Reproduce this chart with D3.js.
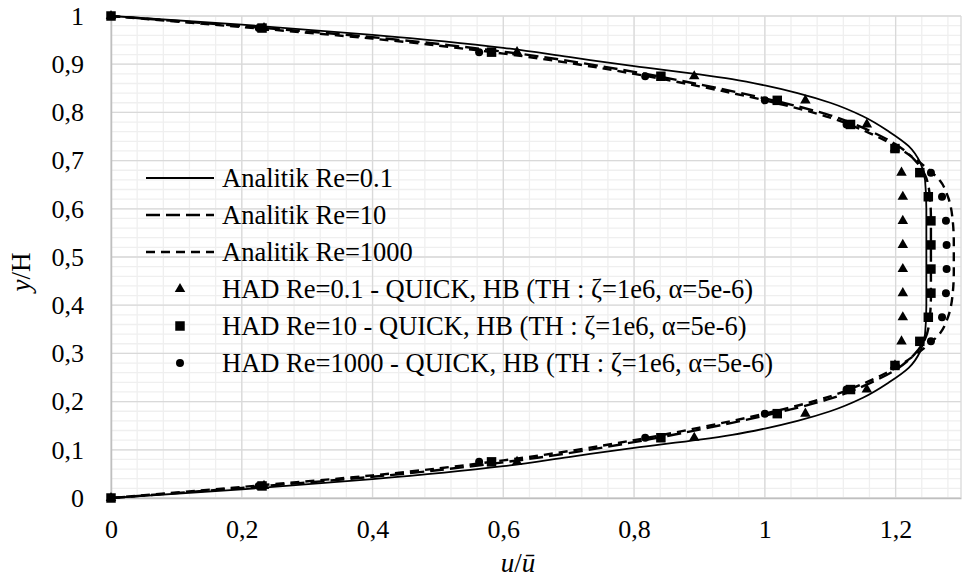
<!DOCTYPE html>
<html>
<head>
<meta charset="utf-8">
<script src="https://cdn.jsdelivr.net/npm/d3@7"></script>
<style>
  body { margin: 0; background: #fff; }
  svg { display: block; }
  svg text { font-family: 'Liberation Serif', 'Times New Roman', 'DejaVu Serif', 'Noto Serif', serif; }
</style>
</head>
<body>
<script>
// y/H levels of the HAD (numerical) points
const hadY = [0, 0.025, 0.075, 0.125, 0.175, 0.225, 0.275, 0.325, 0.375, 0.425, 0.475,
  0.525, 0.575, 0.625, 0.675, 0.725, 0.775, 0.825, 0.875, 0.925, 0.975, 1];
const hadRe01 = [0, 0.234, 0.621, 0.892, 1.062, 1.156, 1.199, 1.209, 1.211, 1.211, 1.211,
  1.211, 1.211, 1.211, 1.209, 1.199, 1.156, 1.062, 0.892, 0.621, 0.234, 0];
const hadRe10 = [0, 0.231, 0.582, 0.841, 1.019, 1.131, 1.199, 1.237, 1.25, 1.254, 1.254,
  1.254, 1.254, 1.25, 1.237, 1.199, 1.131, 1.019, 0.841, 0.582, 0.231, 0];
const hadRe1000 = [0, 0.226, 0.563, 0.817, 1.0, 1.125, 1.2, 1.254, 1.271, 1.277, 1.278,
  1.278, 1.277, 1.271, 1.254, 1.2, 1.125, 1.0, 0.817, 0.563, 0.226, 0];

// analytic profiles (u/ubar, y/H)
const anaRe01U = [0, 0.2, 0.4, 0.6, 0.7, 0.8, 0.9, 0.95, 1.0, 1.05, 1.1, 1.15, 1.19, 1.22, 1.238, 1.245, 1.247,
  1.247, 1.245, 1.238, 1.22, 1.19, 1.15, 1.1, 1.05, 1.0, 0.95, 0.9, 0.8, 0.7, 0.6, 0.4, 0.2, 0];
const anaRe01Y = [0, 0.018, 0.039, 0.066, 0.085, 0.104, 0.121, 0.131, 0.144, 0.16, 0.18, 0.208, 0.24, 0.27, 0.305, 0.34, 0.4,
  0.6, 0.66, 0.695, 0.73, 0.76, 0.792, 0.82, 0.84, 0.856, 0.869, 0.879, 0.896, 0.915, 0.934, 0.961, 0.982, 1];
const anaRe10U = [0, 0.2, 0.4, 0.6, 0.8, 0.9, 1.0, 1.1, 1.16, 1.2, 1.23, 1.245, 1.252, 1.254,
  1.254, 1.252, 1.245, 1.23, 1.2, 1.16, 1.1, 1.0, 0.9, 0.8, 0.6, 0.4, 0.2, 0];
const anaRe10Y = [0, 0.021, 0.044, 0.074, 0.116, 0.142, 0.171, 0.206, 0.238, 0.266, 0.3, 0.33, 0.37, 0.42,
  0.58, 0.63, 0.67, 0.7, 0.734, 0.762, 0.794, 0.829, 0.858, 0.884, 0.926, 0.956, 0.979, 1];
const anaRe1000U = [0, 0.2, 0.4, 0.6, 0.8, 0.9, 1.0, 1.1, 1.16, 1.2, 1.23, 1.25, 1.268, 1.28, 1.287, 1.289,
  1.289, 1.287, 1.28, 1.268, 1.25, 1.23, 1.2, 1.16, 1.1, 1.0, 0.9, 0.8, 0.6, 0.4, 0.2, 0];
const anaRe1000Y = [0, 0.023, 0.047, 0.078, 0.12, 0.146, 0.175, 0.211, 0.243, 0.27, 0.297, 0.318, 0.342, 0.375, 0.42, 0.47,
  0.53, 0.58, 0.625, 0.658, 0.682, 0.703, 0.73, 0.757, 0.789, 0.825, 0.854, 0.88, 0.922, 0.953, 0.977, 1];

const xTicks = [0, 0.2, 0.4, 0.6, 0.8, 1, 1.2];
const yTicks = [0, 0.1, 0.2, 0.3, 0.4, 0.5, 0.6, 0.7, 0.8, 0.9, 1];
const legendNames = ['Analitik Re=0.1', 'Analitik Re=10', 'Analitik Re=1000',
  'HAD Re=0.1 - QUICK, HB (TH : \u03b6=1e6, \u03b1=5e-6)',
  'HAD Re=10 - QUICK, HB (TH : \u03b6=1e6, \u03b1=5e-6)',
  'HAD Re=1000 - QUICK, HB (TH : \u03b6=1e6, \u03b1=5e-6)'];

(function() {
  const width = 965;
  const height = 578;
  const pLeft = 111, pRight = 961, pTop = 16, pBottom = 498;

  const svg = d3.select('body').append('svg').attr('width', width).attr('height', height);

  const xScale = d3.scaleLinear().domain([0, 1.3]).range([pLeft, pRight]);
  const yScale = d3.scaleLinear().domain([0, 1]).range([pBottom, pTop]);
  const comma = function(d) { return d3.format('~g')(d).replace('.', ','); };

  // minor grid
  const minorX = d3.range(0, 1.3, 0.04);
  const minorY = d3.range(0, 1.0001, 0.02);
  svg.append('g').selectAll('line').data(minorX).enter().append('line')
    .attr('x1', function(d) { return xScale(d); }).attr('x2', function(d) { return xScale(d); })
    .attr('y1', pTop).attr('y2', pBottom).attr('stroke', '#efefef').attr('stroke-width', 1.3);
  svg.append('g').selectAll('line').data(minorY).enter().append('line')
    .attr('y1', function(d) { return yScale(d); }).attr('y2', function(d) { return yScale(d); })
    .attr('x1', pLeft).attr('x2', pRight).attr('stroke', '#efefef').attr('stroke-width', 1.3);

  // major grid
  svg.append('g').selectAll('line').data(xTicks).enter().append('line')
    .attr('x1', function(d) { return xScale(d); }).attr('x2', function(d) { return xScale(d); })
    .attr('y1', pTop).attr('y2', pBottom).attr('stroke', '#d9d9d9').attr('stroke-width', 1.3);
  svg.append('g').selectAll('line').data(yTicks).enter().append('line')
    .attr('y1', function(d) { return yScale(d); }).attr('y2', function(d) { return yScale(d); })
    .attr('x1', pLeft).attr('x2', pRight).attr('stroke', '#d9d9d9').attr('stroke-width', 1.3);

  // axes
  const xAxis = svg.append('g')
    .attr('transform', 'translate(0,' + pBottom + ')')
    .call(d3.axisBottom(xScale).tickValues(xTicks).tickSize(0).tickPadding(22).tickFormat(comma));
  const yAxis = svg.append('g')
    .attr('transform', 'translate(' + pLeft + ',0)')
    .call(d3.axisLeft(yScale).tickValues(yTicks).tickSize(0).tickPadding(27).tickFormat(comma));
  [xAxis, yAxis].forEach(function(g) {
    g.attr('font-family', null);
    g.select('.domain').attr('stroke', '#bfbfbf').attr('stroke-width', 1.5);
    g.selectAll('text').attr('font-size', 26).attr('fill', '#000');
  });
  svg.append('line').attr('x1', pRight).attr('x2', pRight).attr('y1', pTop).attr('y2', pBottom)
    .attr('stroke', '#d9d9d9').attr('stroke-width', 1.3);

  // axis titles
  const xTitle = svg.append('text').attr('x', 518).attr('y', 572).attr('text-anchor', 'middle')
    .attr('font-size', 27);
  xTitle.append('tspan').attr('font-style', 'italic').text('u');
  xTitle.append('tspan').text('/');
  xTitle.append('tspan').attr('font-style', 'italic').text('\u016b');

  const yTitle = svg.append('text').attr('transform', 'translate(30,272) rotate(-90)')
    .attr('text-anchor', 'middle').attr('font-size', 27);
  yTitle.append('tspan').attr('font-style', 'italic').text('y');
  yTitle.append('tspan').text('/H');

  // analytic curves
  const analytic = [
    { u: anaRe01U, y: anaRe01Y, dash: null, w: 1.8 },
    { u: anaRe10U, y: anaRe10Y, dash: '14,6', w: 2.4 },
    { u: anaRe1000U, y: anaRe1000Y, dash: '9,6', w: 2.4 }
  ];
  const line = d3.line()
    .x(function(d) { return xScale(d[0]); })
    .y(function(d) { return yScale(d[1]); })
    .curve(d3.curveMonotoneY);
  analytic.forEach(function(s) {
    const pts = s.u.map(function(v, i) { return [v, s.y[i]]; });
    svg.append('path').datum(pts).attr('d', line)
      .attr('fill', 'none').attr('stroke', '#000').attr('stroke-width', s.w)
      .attr('stroke-dasharray', s.dash);
  });

  // HAD markers
  const markers = [
    { vals: hadRe01, sym: d3.symbol(d3.symbolTriangle, 48) },
    { vals: hadRe10, sym: d3.symbol(d3.symbolSquare, 90) },
    { vals: hadRe1000, sym: d3.symbol(d3.symbolCircle, 50) }
  ];
  markers.forEach(function(m) {
    svg.append('g').selectAll('path').data(m.vals).enter().append('path')
      .attr('d', m.sym)
      .attr('transform', function(d, i) { return 'translate(' + xScale(d) + ',' + yScale(hadY[i]) + ')'; })
      .attr('fill', '#000');
  });

  // legend
  const legend = svg.append('g');
  legendNames.forEach(function(name, i) {
    const y = 178 + i * 37;
    if (i < 3) {
      legend.append('line').attr('x1', 146).attr('x2', 214).attr('y1', y).attr('y2', y)
        .attr('stroke', '#000').attr('stroke-width', analytic[i].w)
        .attr('stroke-dasharray', analytic[i].dash);
    } else {
      legend.append('path').attr('d', markers[i - 3].sym)
        .attr('transform', 'translate(180,' + y + ')').attr('fill', '#000');
    }
    legend.append('text').attr('x', 222).attr('y', y + 9)
      .attr('font-size', 26.5).text(name);
  });
})();
</script>
</body>
</html>
